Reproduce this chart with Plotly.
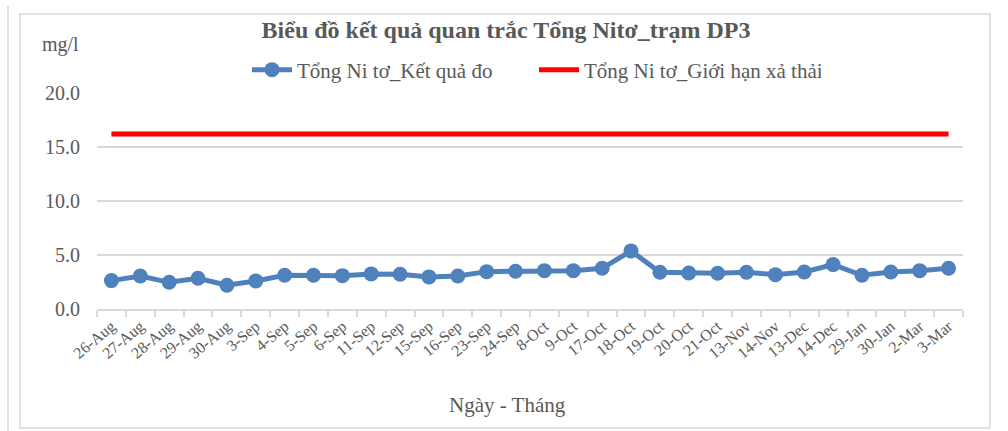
import plotly.graph_objects as go

categories = ["26-Aug", "27-Aug", "28-Aug", "29-Aug", "30-Aug", "3-Sep", "4-Sep", "5-Sep",
              "6-Sep", "11-Sep", "12-Sep", "15-Sep", "16-Sep", "23-Sep", "24-Sep", "8-Oct",
              "9-Oct", "17-Oct", "18-Oct", "19-Oct", "20-Oct", "21-Oct", "13-Nov", "14-Nov",
              "13-Dec", "14-Dec", "29-Jan", "30-Jan", "2-Mar", "3-Mar"]
measured = [2.63, 3.06, 2.47, 2.85, 2.2, 2.6, 3.12, 3.12, 3.09, 3.25, 3.22, 2.97, 3.06,
            3.46, 3.5, 3.55, 3.55, 3.77, 5.38, 3.4, 3.34, 3.31, 3.4, 3.18, 3.43, 4.11,
            3.12, 3.43, 3.55, 3.77]
limit = [16.2] * len(categories)
yticks = [0, 5, 10, 15, 20]

name_measured = "Tổng Ni tơ_Kết quả đo"
name_limit = "Tổng Ni tơ_Giới hạn xả thải"

FONT = "Liberation Serif"
GRID = "#d9d9d9"
TXT = "#595959"

fig = go.Figure()
fig.add_trace(go.Scatter(
    x=categories, y=measured, name=name_measured, mode="lines+markers",
    line=dict(color="#4f81bd", width=5),
    marker=dict(color="#4f81bd", size=15, symbol="circle"),
    hoverinfo="skip",
))
fig.add_trace(go.Scatter(
    x=categories, y=limit, name=name_limit, mode="lines",
    line=dict(color="#ff0000", width=5),
    hoverinfo="skip",
))

L, R, T, B = 97, 45, 93, 122
W, H = 1008, 431
pw, ph = W - L - R, H - T - B


def px_x(x):
    return (x - L) / pw


def px_y(y):
    return (H - B - y) / ph


fig.update_layout(
    width=W, height=H,
    margin=dict(l=L, r=R, t=T, b=B, pad=0),
    paper_bgcolor="white", plot_bgcolor="white",
    font=dict(family=FONT, color=TXT, size=17),
    showlegend=True,
    legend=dict(
        orientation="h", x=px_x(247), y=px_y(70), xanchor="left", yanchor="middle",
        font=dict(family=FONT, size=21, color=TXT), bgcolor="rgba(0,0,0,0)",
        itemwidth=40, tracegroupgap=0, entrywidth=232, entrywidthmode="pixels",
    ),
    title=dict(
        text="<b>Biểu đồ kết quả quan trắc Tổng Nitơ_trạm DP3</b>",
        x=506 / W, y=1 - 30 / H, xanchor="center", yanchor="middle",
        xref="container", yref="container",
        font=dict(family=FONT, size=24, color="#595959"),
    ),
    xaxis=dict(
        type="category", showgrid=False, showline=True, linecolor=GRID, linewidth=1.5,
        ticks="outside", tickson="boundaries", ticklen=6, tickcolor=GRID, tickwidth=1.5,
        tickangle=-40, tickfont=dict(family=FONT, size=16, color=TXT),
        range=[-0.5, len(categories) - 0.5], fixedrange=True,
    ),
    yaxis=dict(
        range=[0, 20], tickvals=yticks, tickformat=".1f", showgrid=True, gridcolor=GRID,
        gridwidth=1.5, zeroline=False, showline=False, ticks="", ticklabelstandoff=16,
        tickfont=dict(family=FONT, size=20, color=TXT), fixedrange=True,
    ),
    annotations=[
        dict(text="mg/l", xref="paper", yref="paper", x=px_x(60), y=px_y(45),
             xanchor="center", yanchor="middle", showarrow=False,
             font=dict(family=FONT, size=20, color=TXT)),
        dict(text="Ngày - Tháng", xref="paper", yref="paper", x=px_x(507), y=px_y(405),
             xanchor="center", yanchor="middle", showarrow=False,
             font=dict(family=FONT, size=21, color=TXT)),
    ],
    shapes=[
        dict(type="rect", xref="paper", yref="paper",
             x0=px_x(20), x1=px_x(990), y0=px_y(428), y1=px_y(14),
             line=dict(color=GRID, width=1.5), fillcolor="rgba(0,0,0,0)", layer="below"),
        dict(type="line", xref="paper", yref="paper",
             x0=px_x(8), x1=px_x(8), y0=px_y(431), y1=px_y(6),
             line=dict(color=GRID, width=1.5), layer="below"),
    ],
)

fig.write_html("out.html", config={"displayModeBar": False},
               post_script="document.body.style.margin='0';")
